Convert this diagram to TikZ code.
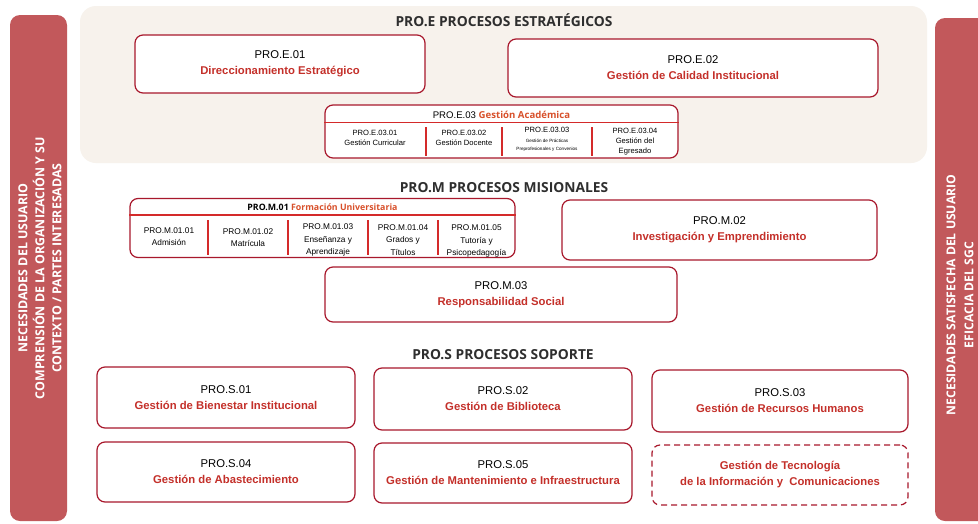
\documentclass[tikz,border=0pt]{standalone}
\usepackage{fontspec}
\setmainfont{Liberation Sans}
\newfontfamily\osans{Open Sans}
\definecolor{boxred}{HTML}{A8182C}
\definecolor{txtred}{HTML}{C4302A}
\definecolor{orred}{HTML}{D8502A}
\definecolor{seprd}{HTML}{D42A2A}
\definecolor{sidebar}{HTML}{C2585B}
\definecolor{beige}{HTML}{F7F2EC}
\definecolor{ttl}{HTML}{2E2E2E}
\tikzset{
  procbox/.style={draw=boxred, line width=1.2pt, rounded corners=8pt, fill=white, inner sep=0pt, align=center,
    font=\fontsize{11.3}{16}\selectfont},
  secttl/.style={font=\osans\bfseries\fontsize{13.8}{16}\selectfont, text=ttl},
  subtxt/.style={font=\fontsize{7.6}{10}\selectfont, align=center, inner sep=0pt},
  mtxt/.style={font=\fontsize{8.3}{12.3}\selectfont, align=center, inner sep=0pt},
  hsep/.style={draw=seprd, line width=1.5pt},
  vsep/.style={draw=seprd, line width=1.3pt},
  sidetxt/.style={font=\osans\bfseries\fontsize{12.4}{17}\selectfont, text=white, align=center, rotate=90}
}
\newcommand{\rd}[1]{\textcolor{txtred}{\bfseries #1}}
\begin{document}
\begin{tikzpicture}[x=1pt,y=-1pt]
\useasboundingbox (0,0) rectangle (978,523);
\fill[white] (0,0) rectangle (978,523);
% strategic background
\fill[beige, rounded corners=16pt] (80,6) rectangle (927,163);
% side bars
\begin{scope}
\clip (0,0) rectangle (978,523);
\fill[sidebar, rounded corners=10pt] (10,15) rectangle (67,521);
\fill[sidebar, rounded corners=10pt] (935,18) rectangle (995,521);
\end{scope}
\node[sidetxt] (lside) at (40,268) {NECESIDADES DEL USUARIO\\COMPRENSIÓN DE LA ORGANIZACIÓN Y SU\\CONTEXTO / PARTES INTERESADAS};
\node[sidetxt, font=\osans\bfseries\fontsize{12.2}{18}\selectfont] (rside) at (960,295) {NECESIDADES SATISFECHA DEL USUARIO\\EFICACIA DEL SGC};

% section titles
\node[secttl] (tE) at (504,20) {PRO.E PROCESOS ESTRATÉGICOS};
\node[secttl] (tM) at (504,188) {PRO.M PROCESOS MISIONALES};
\node[secttl] (tS) at (503,355) {PRO.S PROCESOS SOPORTE};

% strategic
\node[procbox, minimum width=290pt, minimum height=58pt] (e1) at (280,64) {PRO.E.01\\\rd{Direccionamiento Estratégico}};
\node[procbox, minimum width=370pt, minimum height=58pt] (e2) at (693,68) {PRO.E.02\\\rd{Gestión de Calidad Institucional}};
\node[procbox, minimum width=353pt, minimum height=53pt] (e3) at (501.5,131.5) {};
\node[font=\fontsize{9.6}{11}\selectfont, inner sep=0pt] (e3t) at (501.5,115) {PRO.E.03 \textcolor{orred}{\osans\bfseries Gestión Académica}};
\draw[hsep] ([yshift=-18pt]e3.north west) -- ([yshift=-18pt]e3.north east);
\draw[vsep] (426,127) -- (426,156);
\draw[vsep] (502,127) -- (502,156);
\draw[vsep] (592,127) -- (592,156);
\node[subtxt] (e31) at (375,138) {PRO.E.03.01\\Gestión Curricular};
\node[subtxt] (e32) at (464,138) {PRO.E.03.02\\Gestión Docente};
\node[subtxt] (e33) at (547,139) {PRO.E.03.03\\{\fontsize{4.6}{5.5}\selectfont Gestión de Prácticas}\\[-2pt]{\fontsize{4.6}{5.5}\selectfont Preprofesionales y Convenios}};
\node[subtxt] (e34) at (635,142) {PRO.E.03.04\\Gestión del\\Egresado};

% misional
\node[procbox, minimum width=385pt, minimum height=59pt] (m1) at (322.5,228) {};
\node[font=\osans\bfseries\fontsize{8.8}{10}\selectfont, inner sep=0pt] (m1t) at (322.5,207) {PRO.M.01 \textcolor{orred}{Formación Universitaria}};
\draw[hsep] ([yshift=-17pt]m1.north west) -- ([yshift=-17pt]m1.north east);
\draw[vsep] (208,220) -- (208,255);
\draw[vsep] (288,220) -- (288,255);
\draw[vsep] (368,220) -- (368,255);
\draw[vsep] (438,220) -- (438,255);
\node[mtxt] (m11) at (169,236.5) {PRO.M.01.01\\Admisión};
\node[mtxt] (m12) at (248,237.5) {PRO.M.01.02\\Matrícula};
\node[mtxt] (m13) at (328,240) {PRO.M.01.03\\Enseñanza y\\Aprendizaje};
\node[mtxt] (m14) at (403,240) {PRO.M.01.04\\Grados y\\Títulos};
\node[mtxt] (m15) at (476.5,241) {PRO.M.01.05\\Tutoría y\\Psicopedagogía};
\node[procbox, minimum width=315pt, minimum height=60pt] (m2) at (719.5,230) {PRO.M.02\\\rd{Investigación y Emprendimiento}};
\node[procbox, minimum width=352pt, minimum height=55pt] (m3) at (501,294.5) {PRO.M.03\\\rd{Responsabilidad Social}};

% soporte
\node[procbox, minimum width=258pt, minimum height=61pt] (s1) at (226,397.5) {PRO.S.01\\\rd{Gestión de Bienestar Institucional}};
\node[procbox, minimum width=258pt, minimum height=62pt] (s2) at (503,399) {PRO.S.02\\\rd{Gestión de Biblioteca}};
\node[procbox, minimum width=256pt, minimum height=62pt] (s3) at (780,401) {PRO.S.03\\\rd{Gestión de Recursos Humanos}};
\node[procbox, minimum width=258pt, minimum height=60pt] (s4) at (226,472) {PRO.S.04\\\rd{Gestión de Abastecimiento}};
\node[procbox, minimum width=258pt, minimum height=60pt] (s5) at (503,473) {PRO.S.05\\\rd{Gestión de Mantenimiento e Infraestructura}};
\node[procbox, dashed, dash pattern=on 6pt off 4pt, minimum width=256pt, minimum height=60pt] (s6) at (780,475) {\rd{Gestión de Tecnología}\\\rd{de la Información y \ Comunicaciones}};
\end{tikzpicture}
\end{document}
